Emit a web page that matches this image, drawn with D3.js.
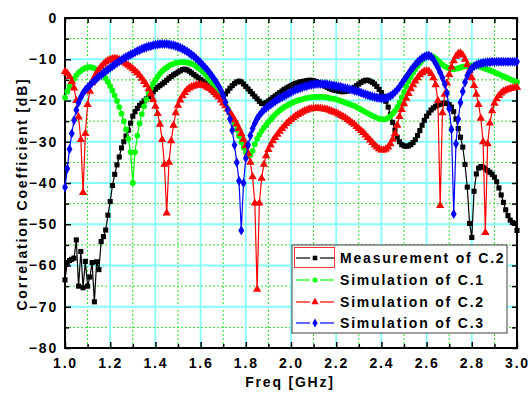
<!DOCTYPE html>
<html>
<head>
<meta charset="utf-8">
<script src="https://cdn.jsdelivr.net/npm/d3@7"></script>
<style>
  html, body { margin: 0; padding: 0; background: #fff; }
  svg text {
    font-family: "Liberation Sans", Arial, sans-serif;
    font-weight: bold;
    font-size: 14px;
    letter-spacing: 1.8px;
    fill: #000;
  }
</style>
</head>
<body>
<svg id="chart" width="530" height="402"></svg>
<script>
// Frequency sweep: 1.00 to 3.00 GHz in 0.01 GHz steps (201 points per trace)
const freqGHz = d3.range(201).map(i => +(1 + i * 0.01).toFixed(2));

// Correlation coefficient traces [dB]
const measC2 = [
  -63.5,-59.3,-58.8,-58.5,-58.2,-53.8,-65.0,-56.6,-65.4,-59.0,
  -65.0,-62.8,-59.3,-68.8,-59.1,-61.0,-54.2,-53.0,-51.4,-47.8,
  -44.5,-40.6,-37.9,-35.6,-33.7,-31.5,-30.0,-28.6,-27.2,-25.5,
  -23.8,-22.7,-21.9,-21.2,-20.7,-20.1,-19.6,-19.1,-18.5,-17.9,
  -17.3,-16.8,-16.4,-16.0,-15.6,-15.1,-14.6,-14.2,-13.8,-13.5,
  -13.1,-12.8,-12.5,-12.4,-12.6,-12.9,-13.3,-13.7,-14.1,-14.5,
  -14.9,-15.3,-15.8,-16.3,-16.9,-17.5,-18.1,-18.6,-19.0,-19.2,
  -19.0,-18.4,-17.7,-17.0,-16.4,-15.9,-15.5,-15.3,-15.5,-16.0,
  -16.6,-17.2,-17.8,-18.4,-19.0,-19.6,-20.2,-20.7,-20.8,-20.5,
  -20.1,-19.7,-19.3,-18.9,-18.5,-18.1,-17.7,-17.3,-17.0,-16.7,
  -16.4,-16.1,-15.9,-15.7,-15.5,-15.4,-15.3,-15.2,-15.1,-15.1,
  -15.2,-15.4,-15.6,-15.9,-16.2,-16.5,-16.8,-17.1,-17.3,-17.5,
  -17.6,-17.7,-17.8,-17.9,-17.8,-17.7,-17.5,-17.2,-16.8,-16.4,
  -16.0,-15.6,-15.3,-15.1,-15.1,-15.3,-15.6,-16.0,-16.6,-17.3,
  -18.1,-19.0,-20.2,-21.6,-23.3,-25.3,-27.2,-28.9,-30.0,-30.7,
  -31.0,-31.1,-31.0,-30.7,-30.2,-29.5,-28.5,-27.3,-26.0,-24.8,
  -23.8,-23.0,-22.3,-21.8,-21.4,-21.1,-20.9,-20.7,-20.6,-20.7,
  -21.0,-21.6,-22.7,-24.5,-26.8,-28.9,-31.3,-35.5,-41.0,-49.8,
  -53.2,-42.0,-37.8,-36.4,-36.0,-36.2,-36.6,-37.0,-37.4,-37.9,
  -38.6,-39.7,-41.2,-42.9,-44.7,-46.5,-47.9,-49.0,-49.6,-49.8,
  -51.5
];

const simC1 = [
  -19.3,-17.8,-16.6,-15.6,-14.7,-13.9,-13.3,-12.8,-12.4,-12.1,
  -11.9,-11.9,-12.0,-12.2,-12.5,-12.9,-13.4,-13.9,-14.6,-15.5,
  -16.5,-17.6,-18.8,-20.1,-21.6,-23.2,-25.0,-27.0,-29.3,-32.5,
  -40.0,-32.5,-28.5,-25.6,-23.3,-21.4,-19.8,-18.3,-17.0,-15.9,
  -15.0,-14.2,-13.5,-12.9,-12.4,-12.0,-11.6,-11.3,-11.1,-10.9,
  -10.8,-10.7,-10.7,-10.7,-10.8,-10.9,-11.1,-11.3,-11.7,-12.1,
  -12.5,-13.0,-13.6,-14.2,-14.9,-15.7,-16.5,-17.3,-18.1,-19.0,
  -19.9,-20.9,-22.0,-23.2,-24.4,-25.7,-27.1,-28.6,-30.1,-31.4,
  -32.5,-33.3,-33.2,-32.2,-30.6,-29.3,-28.3,-27.4,-26.6,-25.9,
  -25.2,-24.6,-24.0,-23.4,-22.9,-22.4,-22.0,-21.6,-21.3,-21.0,
  -20.7,-20.4,-20.2,-20.0,-19.8,-19.7,-19.5,-19.4,-19.3,-19.2,
  -19.2,-19.1,-19.1,-19.1,-19.1,-19.2,-19.3,-19.4,-19.5,-19.6,
  -19.7,-19.9,-20.1,-20.3,-20.5,-20.7,-20.9,-21.1,-21.3,-21.6,
  -21.9,-22.2,-22.5,-22.8,-23.1,-23.4,-23.7,-23.9,-24.2,-24.4,
  -24.5,-24.6,-24.5,-24.2,-23.8,-23.2,-22.5,-21.6,-20.5,-19.2,
  -17.9,-16.6,-15.4,-14.3,-13.3,-12.4,-11.6,-10.9,-10.3,-9.8,
  -9.4,-9.2,-9.2,-9.4,-9.8,-10.3,-10.8,-11.3,-11.7,-12.0,
  -12.2,-12.4,-12.4,-12.3,-12.2,-12.0,-11.8,-11.7,-11.6,-11.5,
  -11.5,-11.5,-11.6,-11.7,-11.9,-12.1,-12.3,-12.5,-12.7,-12.9,
  -13.1,-13.4,-13.6,-13.9,-14.1,-14.4,-14.6,-14.9,-15.1,-15.3,
  -15.5
];

const simC2 = [
  -13.0,-13.4,-14.2,-15.4,-17.0,-20.0,-24.0,-29.5,-42.3,-28.0,
  -21.0,-17.8,-15.7,-14.3,-13.3,-12.5,-11.8,-11.2,-10.7,-10.3,
  -10.1,-9.9,-9.8,-9.9,-10.1,-10.4,-10.7,-11.1,-11.5,-11.9,
  -12.3,-12.8,-13.3,-13.9,-14.6,-15.4,-16.2,-17.2,-18.4,-19.8,
  -21.4,-23.2,-25.8,-29.5,-35.5,-47.3,-35.0,-29.8,-26.0,-23.0,
  -21.2,-19.9,-18.9,-18.1,-17.4,-17.0,-16.7,-16.5,-16.3,-16.2,
  -16.2,-16.3,-16.5,-16.8,-17.1,-17.5,-18.0,-18.6,-19.2,-19.9,
  -20.6,-21.3,-22.1,-22.9,-23.8,-24.7,-25.7,-26.8,-28.0,-29.4,
  -31.0,-32.8,-35.0,-38.5,-44.9,-65.8,-44.9,-38.9,-35.5,-33.4,
  -31.9,-30.8,-29.8,-29.0,-28.2,-27.5,-26.8,-26.2,-25.6,-25.1,
  -24.6,-24.2,-23.8,-23.4,-23.1,-22.8,-22.5,-22.3,-22.1,-22.0,
  -21.9,-21.9,-21.9,-21.9,-22.0,-22.1,-22.2,-22.4,-22.6,-22.8,
  -23.0,-23.3,-23.6,-23.9,-24.2,-24.6,-25.0,-25.4,-25.8,-26.3,
  -26.8,-27.3,-27.8,-28.4,-29.0,-29.6,-30.2,-30.8,-31.3,-31.7,
  -32.0,-32.0,-31.8,-31.3,-30.5,-29.4,-28.0,-26.0,-23.9,-22.2,
  -20.8,-19.5,-18.3,-17.2,-16.2,-15.3,-14.5,-13.8,-13.3,-12.9,
  -12.8,-12.9,-13.5,-14.5,-16.2,-20.0,-45.5,-23.0,-18.5,-15.8,
  -13.7,-11.9,-10.4,-9.3,-8.6,-8.5,-9.0,-10.0,-11.3,-12.8,
  -14.5,-16.4,-18.5,-21.0,-24.3,-30.0,-52.0,-30.5,-25.5,-22.5,
  -20.7,-19.6,-18.8,-18.2,-17.8,-17.5,-17.3,-17.1,-17.0,-16.9,
  -16.8
];

const simC3 = [
  -41.0,-36.5,-31.8,-28.0,-24.8,-22.3,-20.5,-19.2,-18.2,-17.4,
  -16.9,-16.3,-15.7,-15.2,-14.7,-14.2,-13.8,-13.3,-12.9,-12.5,
  -12.1,-11.7,-11.3,-10.9,-10.5,-10.2,-9.8,-9.5,-9.2,-8.9,
  -8.6,-8.3,-8.0,-7.8,-7.5,-7.3,-7.1,-6.9,-6.8,-6.6,
  -6.5,-6.4,-6.3,-6.3,-6.3,-6.3,-6.4,-6.5,-6.6,-6.8,
  -7.0,-7.2,-7.5,-7.8,-8.1,-8.5,-8.9,-9.3,-9.8,-10.3,
  -10.8,-11.4,-12.0,-12.6,-13.3,-14.0,-14.8,-15.6,-16.5,-17.5,
  -18.8,-20.4,-22.3,-24.5,-27.2,-30.8,-35.0,-39.5,-51.5,-40.0,
  -34.0,-30.8,-28.5,-26.8,-25.5,-24.4,-23.6,-22.9,-22.3,-21.8,
  -21.4,-21.0,-20.6,-20.2,-19.8,-19.5,-19.2,-18.9,-18.6,-18.3,
  -18.0,-17.7,-17.4,-17.2,-17.0,-16.8,-16.6,-16.5,-16.3,-16.2,
  -16.1,-16.0,-16.0,-16.0,-16.0,-16.0,-16.1,-16.2,-16.3,-16.4,
  -16.5,-16.6,-16.7,-16.9,-17.0,-17.1,-17.3,-17.4,-17.6,-17.7,
  -17.9,-18.1,-18.3,-18.5,-18.7,-18.9,-19.0,-19.2,-19.3,-19.4,
  -19.5,-19.5,-19.4,-19.2,-18.9,-18.5,-18.0,-17.4,-16.7,-15.9,
  -15.1,-14.3,-13.5,-12.7,-12.0,-11.3,-10.7,-10.2,-9.7,-9.4,
  -9.2,-9.1,-9.4,-10.0,-11.0,-12.0,-13.2,-14.5,-16.0,-18.2,
  -22.0,-27.0,-47.5,-30.5,-24.5,-20.5,-17.8,-15.6,-14.0,-12.9,
  -12.2,-11.7,-11.4,-11.2,-11.0,-10.9,-10.8,-10.7,-10.7,-10.6,
  -10.6,-10.6,-10.6,-10.6,-10.6,-10.6,-10.6,-10.6,-10.6,-10.6,
  -10.6
];

// Axis tick values and labels
const xTickLabels = [1.0, 1.2, 1.4, 1.6, 1.8, 2.0, 2.2, 2.4, 2.6, 2.8, 3.0];
const xMinorTicks = [1.1, 1.3, 1.5, 1.7, 1.9, 2.1, 2.3, 2.5, 2.7, 2.9];
const yTickLabels = [0, -10, -20, -30, -40, -50, -60, -70, -80];
const yMinorTicks = [-5, -15, -25, -35, -45, -55, -65, -75];

const seriesNames = ["Measurement of C.2", "Simulation of C.1", "Simulation of C.2", "Simulation of C.3"];
const seriesValues = [measC2, simC1, simC2, simC3];

// Styling per trace
const seriesStyle = [
  { color: "#000000", symbol: d3.symbolSquare,   size: 26 },
  { color: "#00ff00", symbol: d3.symbolCircle,   size: 26 },
  { color: "#ff0000", symbol: d3.symbolTriangle, size: 30 },
  { color: "#0000ff", symbol: d3.symbolDiamond,  size: 30 }
];

const svg = d3.select("#chart");
const plot = { left: 65, right: 517, top: 18, bottom: 348 };

const x = d3.scaleLinear().domain([1.0, 3.0]).range([plot.left, plot.right]);
const y = d3.scaleLinear().domain([-80, 0]).range([plot.bottom, plot.top]);

// Minor grid (dashed green)
const gridMinor = svg.append("g").attr("class", "grid-minor")
  .attr("stroke", "#2edc2e").attr("stroke-width", 1).attr("stroke-dasharray", "2,2");
gridMinor.selectAll("line.v").data(xMinorTicks).join("line").attr("class", "v")
  .attr("x1", d => x(d)).attr("x2", d => x(d)).attr("y1", plot.top).attr("y2", plot.bottom);
gridMinor.selectAll("line.h").data(yMinorTicks).join("line").attr("class", "h")
  .attr("x1", plot.left).attr("x2", plot.right).attr("y1", d => y(d)).attr("y2", d => y(d));

// Major grid (solid cyan)
const gridMajor = svg.append("g").attr("class", "grid-major")
  .attr("stroke", "#85ffff").attr("stroke-width", 1.8);
gridMajor.selectAll("line.v").data(xTickLabels.slice(1, -1)).join("line").attr("class", "v")
  .attr("x1", d => x(d)).attr("x2", d => x(d)).attr("y1", plot.top).attr("y2", plot.bottom);
gridMajor.selectAll("line.h").data(yTickLabels.slice(1, -1)).join("line").attr("class", "h")
  .attr("x1", plot.left).attr("x2", plot.right).attr("y1", d => y(d)).attr("y2", d => y(d));

// Axes: inward ticks on all four sides
function styleAxis(g) {
  g.select(".domain").remove();
  g.selectAll(".tick line").attr("stroke", "#000").attr("stroke-width", 1.5);
  g.selectAll(".tick text").attr("font-family", null).attr("font-size", null);
}

svg.append("g").attr("transform", `translate(0,${plot.bottom})`)
  .call(d3.axisBottom(x).tickValues(xTickLabels).tickSizeInner(-6).tickSizeOuter(0)
    .tickPadding(10).tickFormat(d3.format(".1f")))
  .call(styleAxis);
svg.append("g").attr("transform", `translate(0,${plot.bottom})`)
  .call(d3.axisBottom(x).tickValues(xMinorTicks).tickSizeInner(-4).tickSizeOuter(0).tickFormat(""))
  .call(styleAxis);
svg.append("g").attr("transform", `translate(0,${plot.top})`)
  .call(d3.axisTop(x).tickValues(xTickLabels.concat(xMinorTicks)).tickSizeInner(-5).tickSizeOuter(0).tickFormat(""))
  .call(styleAxis);

svg.append("g").attr("transform", `translate(${plot.left},0)`)
  .call(d3.axisLeft(y).tickValues(yTickLabels).tickSizeInner(-6).tickSizeOuter(0)
    .tickPadding(7).tickFormat(d3.format("d")))
  .call(styleAxis);
svg.append("g").attr("transform", `translate(${plot.left},0)`)
  .call(d3.axisLeft(y).tickValues(yMinorTicks).tickSizeInner(-4).tickSizeOuter(0).tickFormat(""))
  .call(styleAxis);
svg.append("g").attr("transform", `translate(${plot.right},0)`)
  .call(d3.axisRight(y).tickValues(yTickLabels.concat(yMinorTicks)).tickSizeInner(-5).tickSizeOuter(0).tickFormat(""))
  .call(styleAxis);

// Frame
svg.append("rect")
  .attr("x", plot.left).attr("y", plot.top)
  .attr("width", plot.right - plot.left).attr("height", plot.bottom - plot.top)
  .attr("fill", "none").attr("stroke", "#000").attr("stroke-width", 2);

// Traces: connecting line plus a marker at every sample
const line = d3.line().x(d => x(d.f)).y(d => y(d.v));
seriesValues.forEach((vals, k) => {
  const st = seriesStyle[k];
  const pts = vals.map((v, i) => ({ f: freqGHz[i], v }));
  const g = svg.append("g").attr("class", "trace");
  g.append("path").datum(pts).attr("d", line)
    .attr("fill", "none").attr("stroke", st.color).attr("stroke-width", 1.2);
  const sym = d3.symbol().type(st.symbol).size(st.size);
  g.selectAll("path.m").data(pts).join("path").attr("class", "m")
    .attr("d", sym)
    .attr("transform", d => `translate(${x(d.f)},${y(d.v)})`)
    .attr("fill", st.color);
});

// Axis titles
svg.append("text").attr("x", 290).attr("y", 387).attr("text-anchor", "middle").text("Freq [GHz]");
svg.append("text").attr("transform", "translate(27,194) rotate(-90)").attr("text-anchor", "middle")
  .text("Correlation Coefficient [dB]");

// Legend
const leg = svg.append("g").attr("transform", "translate(292,245)");
leg.append("rect").attr("width", 215).attr("height", 88)
  .attr("fill", "#fff").attr("stroke", "#404040").attr("stroke-width", 1);
const rowY = [13, 35, 57, 78];
seriesNames.forEach((name, k) => {
  const st = seriesStyle[k];
  const r = leg.append("g").attr("transform", `translate(0,${rowY[k]})`);
  r.append("line").attr("x1", 4).attr("x2", 18).attr("y1", 0).attr("y2", 0)
    .attr("stroke", st.color).attr("stroke-width", 1.2);
  r.append("line").attr("x1", 28).attr("x2", 42).attr("y1", 0).attr("y2", 0)
    .attr("stroke", st.color).attr("stroke-width", 1.2);
  r.append("path").attr("d", d3.symbol().type(st.symbol).size(st.size * 0.8)())
    .attr("transform", "translate(23,0)").attr("fill", st.color);
  r.append("text").attr("x", 48).attr("y", 5).text(name);
});
// highlight box around the first legend symbol
leg.append("rect").attr("x", 2.5).attr("y", 2.5).attr("width", 40).attr("height", 20)
  .attr("fill", "none").attr("stroke", "#ff3030").attr("stroke-width", 1);
</script>
</body>
</html>
